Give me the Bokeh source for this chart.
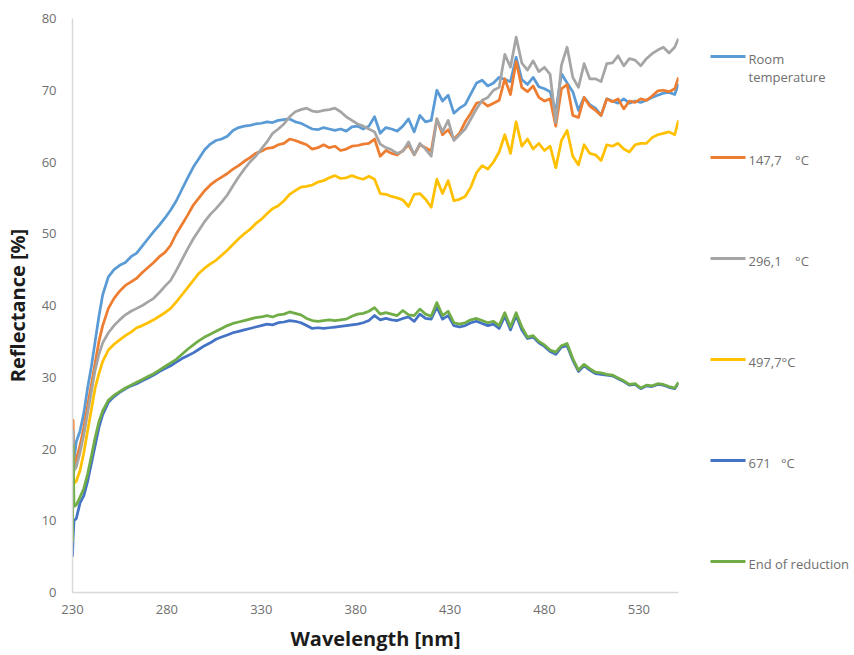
from bokeh.plotting import figure
from bokeh.layouts import row
from bokeh.models import Range1d, FixedTicker, ColumnDataSource
from bokeh.core.properties import value
from bokeh.embed import file_html
from bokeh.resources import INLINE

# Wavelength grid [nm]
wavelength = [230, 230.3, 230.8, 232, 234, 236, 238, 240, 242, 244, 246, 249] \
    + list(range(252, 550, 3)) + [551]

# Reflectance [%] for each stage of the reduction
room_temperature = [
    18, 19.5, 18.5, 21, 22.5, 25, 28.5, 31.5, 35, 38.5, 41.5, 44,
    45, 45.6, 46, 46.8, 47.3, 48.3, 49.3, 50.3, 51.2, 52.2,
    53.3, 54.6, 56.2, 57.8, 59.3, 60.5, 61.7, 62.5, 63, 63.2,
    63.6, 64.4, 64.8, 65, 65.1, 65.3, 65.4, 65.6, 65.5, 65.8,
    65.9, 66, 65.6, 65.4, 65, 64.6, 64.5, 64.8, 64.6, 64.4,
    64.6, 64.3, 64.9, 65, 64.6, 65, 66.3, 64, 64.8, 64.6,
    64.3, 65, 66, 64.2, 66.5, 65.6, 65.8, 70, 68.5, 69.3,
    66.8, 67.5, 68, 69.5, 71, 71.4, 70.6, 71, 71.8, 71.5,
    71.2, 74.6, 71.5, 70.8, 71.8, 70.5, 70.2, 69.8, 67, 72.3,
    71, 69.8, 67.2, 69, 68, 67.5, 66.5, 68.8, 68.5, 68.2,
    68.8, 68.2, 68.5, 68.3, 68.6, 69, 69.3, 69.6, 69.7, 69.4,
    70.9,
]
t_147_7 = [
    21, 24, 17.5, 18.5, 20.5, 23, 26, 29, 32, 35, 37.2, 39.6,
    41, 42, 42.8, 43.3, 43.8, 44.6, 45.3, 46, 46.8, 47.4,
    48.4, 50, 51.3, 52.6, 54, 55, 56, 56.8, 57.4, 57.9,
    58.4, 59, 59.5, 60.1, 60.6, 61.2, 61.5, 61.9, 62, 62.4,
    62.6, 63.2, 63, 62.7, 62.4, 61.8, 62, 62.4, 62, 62.2,
    61.6, 61.8, 62.2, 62.3, 62.5, 62.6, 63.2, 60.8, 61.6, 61.2,
    61, 61.6, 62.4, 61, 62.4, 62, 61.5, 66, 63.8, 64.5,
    63.2, 64, 65.6, 66.8, 68.2, 68.4, 67.8, 68.2, 68.6, 71.6,
    69.4, 74, 70.4, 69.8, 70.6, 69, 68.5, 68.8, 65, 70.2,
    70.8, 66.5, 66.2, 69, 67.8, 67.2, 66.5, 68.8, 68.4, 68.8,
    67.4, 68.5, 68.3, 68.8, 68.6, 69.2, 69.9, 70, 69.8, 70.2,
    71.8,
]
t_296_1 = [
    20, 22.5, 17, 17.5, 19.5, 22, 25, 28, 31, 33.2, 34.8, 36.2,
    37.2, 38, 38.7, 39.2, 39.6, 40, 40.5, 41, 41.8, 42.7,
    43.5, 44.9, 46.4, 47.9, 49.3, 50.5, 51.7, 52.7, 53.5, 54.4,
    55.4, 56.7, 57.9, 59, 60, 60.8, 61.8, 62.8, 64, 64.6,
    65.3, 66.3, 67, 67.3, 67.5, 67.1, 67, 67.2, 67.3, 67.5,
    67, 66.3, 65.8, 65.3, 65, 64.6, 64.2, 62.5, 62, 61.7,
    61.2, 61.5, 62.8, 61, 62.6, 61.8, 60.8, 66, 64.2, 65.8,
    63, 63.8, 64.6, 66, 67.4, 68.6, 69, 70, 70.4, 75,
    73.2, 77.4, 73.8, 72.8, 74.1, 72.6, 73.2, 72.2, 65.5, 73.5,
    76, 71.8, 70.4, 73.7, 71.6, 71.6, 71.2, 73.7, 73.8, 74.8,
    73.4, 74.4, 74.2, 73.4, 74.4, 75.1, 75.6, 76, 75.2, 76,
    77.2,
]
t_497_7 = [
    15, 17, 15.2, 15.5, 17, 19.5, 22.5, 25.5, 28.5, 30.5, 32.2, 33.8,
    34.6, 35.2, 35.8, 36.3, 36.9, 37.2, 37.6, 38, 38.5, 39,
    39.6, 40.5, 41.5, 42.5, 43.5, 44.5, 45.2, 45.8, 46.3, 47,
    47.7, 48.5, 49.3, 50, 50.6, 51.4, 52, 52.8, 53.5, 53.9,
    54.6, 55.5, 56, 56.5, 56.6, 56.8, 57.2, 57.4, 57.8, 58.1,
    57.7, 57.8, 58.1, 57.8, 57.6, 58, 57.6, 55.6, 55.5, 55.2,
    55, 54.7, 53.8, 55.5, 55.6, 54.8, 53.7, 57.6, 55.6, 57.4,
    54.6, 54.8, 55.2, 56.5, 58.5, 59.5, 59, 60, 61.4, 63.8,
    61.2, 65.6, 62.2, 63.2, 61.8, 62.6, 61.6, 62.2, 59.2, 63,
    64.4, 60.8, 59.6, 62.4, 61.2, 61, 60.2, 62.4, 62.2, 62.6,
    61.8, 61.4, 62.4, 62.6, 62.6, 63.4, 63.8, 64, 64.2, 63.8,
    65.8,
]
t_671 = [
    5, 7.5, 10, 10.3, 12.5, 13.5, 15.5, 18, 20.5, 23, 24.8, 26.5,
    27.3, 27.9, 28.4, 28.8, 29.1, 29.5, 29.9, 30.3, 30.8, 31.2,
    31.6, 32.1, 32.6, 33, 33.4, 33.9, 34.4, 34.8, 35.3, 35.6,
    35.9, 36.2, 36.4, 36.6, 36.8, 37, 37.2, 37.4, 37.3, 37.6,
    37.7, 37.9, 37.8, 37.6, 37.2, 36.8, 36.9, 36.8, 36.9, 37,
    37.1, 37.2, 37.3, 37.4, 37.6, 37.9, 38.6, 38, 38.2, 38,
    37.9, 38.2, 38.4, 37.8, 38.8, 38.2, 38.1, 39.8, 38.1, 38.6,
    37.2, 37, 37.2, 37.6, 37.8, 37.5, 37.2, 37.4, 36.8, 38.5,
    36.6, 38.6, 36.6, 35.4, 35.6, 34.8, 34.3, 33.6, 33.2, 34.2,
    34.4, 32.4, 30.8, 31.6, 31, 30.5, 30.4, 30.3, 30.2, 29.8,
    29.4, 28.9, 29, 28.4, 28.8, 28.7, 29, 28.9, 28.6, 28.4,
    29.2,
]
end_of_reduction = [
    7, 20.5, 12, 12.2, 13.3, 14.5, 16.5, 19, 21.6, 23.8, 25.3, 26.8,
    27.5, 28, 28.5, 28.9, 29.3, 29.7, 30.1, 30.5, 31, 31.5,
    32, 32.5, 33.2, 33.9, 34.5, 35.1, 35.6, 36, 36.4, 36.8,
    37.2, 37.5, 37.7, 37.9, 38.1, 38.3, 38.4, 38.6, 38.4, 38.7,
    38.8, 39.1, 38.9, 38.7, 38.2, 37.9, 37.8, 37.9, 38, 37.9,
    38, 38.1, 38.5, 38.8, 38.9, 39.2, 39.7, 38.8, 39, 38.8,
    38.6, 39.3, 38.7, 38.6, 39.5, 38.8, 38.5, 40.4, 38.6, 39.2,
    37.6, 37.4, 37.6, 38, 38.2, 37.9, 37.6, 37.8, 37.2, 39,
    37, 39, 37, 35.6, 35.8, 35, 34.5, 33.8, 33.5, 34.4,
    34.7, 32.6, 31, 31.8, 31.2, 30.7, 30.6, 30.4, 30.3, 29.9,
    29.5, 29, 29.1, 28.5, 28.9, 28.8, 29.1, 29, 28.7, 28.5,
    29.3,
]

series_names = ["room_temperature", "t_147_7", "t_296_1", "t_497_7", "t_671", "end_of_reduction"]
series_labels = [["Room", "temperature"], ["147,7\u00a0\u00a0\u00a0\u00a0°C"], ["296,1\u00a0\u00a0\u00a0\u00a0°C"],
                 ["497,7°C"], ["671\u00a0\u00a0\u00a0°C"], ["End of reduction"]]
series_colors = ["#5B9BD5", "#ED7D31", "#A5A5A5", "#FFC000", "#4472C4", "#70AD47"]

x_ticks = [230, 280, 330, 380, 430, 480, 530]
y_ticks = [0, 10, 20, 30, 40, 50, 60, 70, 80]

FONT = "Open Sans"
TICK_COLOR = "#6f6f6f"
TITLE_COLOR = "#1c1c1c"
W, H = 854, 655
PLOT_W = 700
TOP, BOTTOM = 18, 63

source = ColumnDataSource(dict(
    wavelength=wavelength,
    room_temperature=room_temperature,
    t_147_7=t_147_7,
    t_296_1=t_296_1,
    t_497_7=t_497_7,
    t_671=t_671,
    end_of_reduction=end_of_reduction,
))

p = figure(width=PLOT_W, height=H,
           x_range=Range1d(230, 551), y_range=Range1d(0, 80),
           output_backend="svg", toolbar_location=None,
           min_border_left=70, min_border_right=22,
           min_border_top=TOP, min_border_bottom=BOTTOM)
p.outline_line_color = None
p.background_fill_color = "white"
p.border_fill_color = "white"
p.xgrid.visible = False
p.ygrid.visible = False

for name, color in zip(series_names, series_colors):
    p.line(x="wavelength", y=name, source=source, line_color=color,
           line_width=2.75, line_join="round")

p.xaxis.ticker = FixedTicker(ticks=x_ticks)
p.yaxis.ticker = FixedTicker(ticks=y_ticks)
p.xaxis.axis_label = "Wavelength [nm]"
p.yaxis.axis_label = "Reflectance [%]"
for ax in (p.xaxis[0], p.yaxis[0]):
    ax.axis_line_color = "#d9d9d9"
    ax.axis_line_width = 1.5
    ax.major_tick_line_color = None
    ax.minor_tick_line_color = None
    ax.major_tick_out = 0
    ax.major_tick_in = 0
    ax.major_label_text_font = FONT
    ax.major_label_text_font_size = "13px"
    ax.major_label_text_color = TICK_COLOR
    ax.axis_label_text_font = FONT
    ax.axis_label_text_font_size = "20px"
    ax.axis_label_text_font_style = "bold"
    ax.axis_label_text_color = TITLE_COLOR
p.xaxis.major_label_standoff = 12
p.xaxis.axis_label_standoff = 8
p.yaxis.major_label_standoff = 16
p.yaxis.axis_label_standoff = 8

# Legend panel to the right of the plot; its frame shares the plot's top and
# bottom borders, and its y range is expressed in page pixels (top = TOP).
legend_top = 56
legend_step = 101
leg_w = W - PLOT_W
leg = figure(width=leg_w, height=H,
             x_range=Range1d(0, leg_w), y_range=Range1d(H - BOTTOM, TOP),
             output_backend="svg", toolbar_location=None,
             x_axis_location=None, y_axis_location=None,
             min_border_left=0, min_border_right=0,
             min_border_top=TOP, min_border_bottom=BOTTOM)
leg.outline_line_color = None
leg.xgrid.visible = False
leg.ygrid.visible = False

sw_x0, sw_x1, txt_x, line_gap = 10, 45, 48, 18
sw_y, sw_c, tx, ty, tt = [], [], [], [], []
for i, (labels, color) in enumerate(zip(series_labels, series_colors)):
    yy = legend_top + i * legend_step
    sw_y.append(yy)
    sw_c.append(color)
    for j, line in enumerate(labels):
        tx.append(txt_x)
        ty.append(yy + 2 + j * line_gap)
        tt.append(line)

leg.segment(x0=[sw_x0] * len(sw_y), y0=sw_y, x1=[sw_x1] * len(sw_y), y1=sw_y,
            line_color=sw_c, line_width=3)
leg.text(x=tx, y=ty, text=tt, text_font=value(FONT), text_font_size=value("13px"),
         text_color=TICK_COLOR, text_baseline="middle", text_align="left")

layout = row(p, leg)
open("out.html", "w").write(file_html(layout, INLINE))
